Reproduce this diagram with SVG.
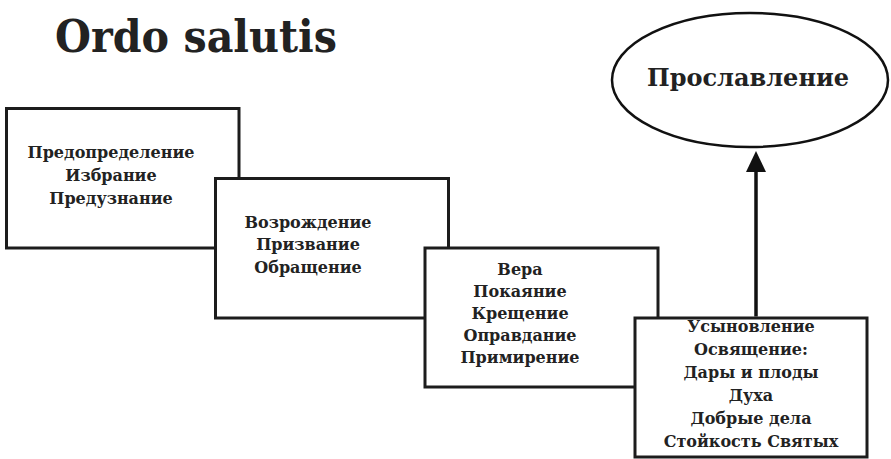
<svg xmlns="http://www.w3.org/2000/svg" width="891" height="459" viewBox="0 0 891 459">
<style>
.box{fill:#fff;stroke:#1c1c1c;stroke-width:3}
.t{font-family:"DejaVu Serif","Liberation Serif",serif;font-weight:bold;font-size:16px;fill:#222;text-anchor:middle}
.title{font-family:"DejaVu Serif","Liberation Serif",serif;font-weight:bold;font-size:45px;fill:#222}
.conn{stroke:#111;stroke-width:3.5;fill:none}
</style>
<defs>
<marker id="ah" markerUnits="userSpaceOnUse" markerWidth="22" markerHeight="20" refX="7" refY="10" orient="auto" viewBox="0 0 21 20">
<path d="M0 0 L21 10 L0 20 Z" fill="#111"/>
</marker>
</defs>
<text class="title" x="55" y="52" textLength="282" lengthAdjust="spacingAndGlyphs">Ordo salutis</text>
<g id="n1">
<rect class="box" x="6.5" y="108.5" width="232.5" height="139.5"/>
<text class="t" x="111" y="158">Предопределение</text>
<text class="t" x="111" y="181">Избрание</text>
<text class="t" x="111" y="204">Предузнание</text>
</g>
<g id="n2">
<rect class="box" x="215.5" y="178.5" width="233" height="139.5"/>
<text class="t" x="308" y="228">Возрождение</text>
<text class="t" x="308" y="250">Призвание</text>
<text class="t" x="308" y="273">Обращение</text>
</g>
<g id="n3">
<rect class="box" x="425" y="248" width="233" height="139"/>
<text class="t" x="520" y="275">Вера</text>
<text class="t" x="520" y="297">Покаяние</text>
<text class="t" x="520" y="319">Крещение</text>
<text class="t" x="520" y="341">Оправдание</text>
<text class="t" x="520" y="363">Примирение</text>
</g>
<g id="n4">
<rect class="box" x="635" y="318" width="232" height="139"/>
<text class="t" x="751" y="332">Усыновление</text>
<text class="t" x="751" y="355">Освящение:</text>
<text class="t" x="751" y="378">Дары и плоды</text>
<text class="t" x="751" y="401">Духа</text>
<text class="t" x="751" y="424">Добрые дела</text>
<text class="t" x="751" y="447">Стойкость Святых</text>
</g>
<g id="n5">
<ellipse cx="750" cy="80" rx="138" ry="67" fill="#fff" stroke="#111" stroke-width="2.5"/>
<text class="t" style="font-size:24px" x="748" y="86">Прославление</text>
</g>
<g id="connectors">
<line class="conn" x1="756" y1="316.5" x2="756" y2="165" marker-end="url(#ah)"/>
</g>
</svg>
